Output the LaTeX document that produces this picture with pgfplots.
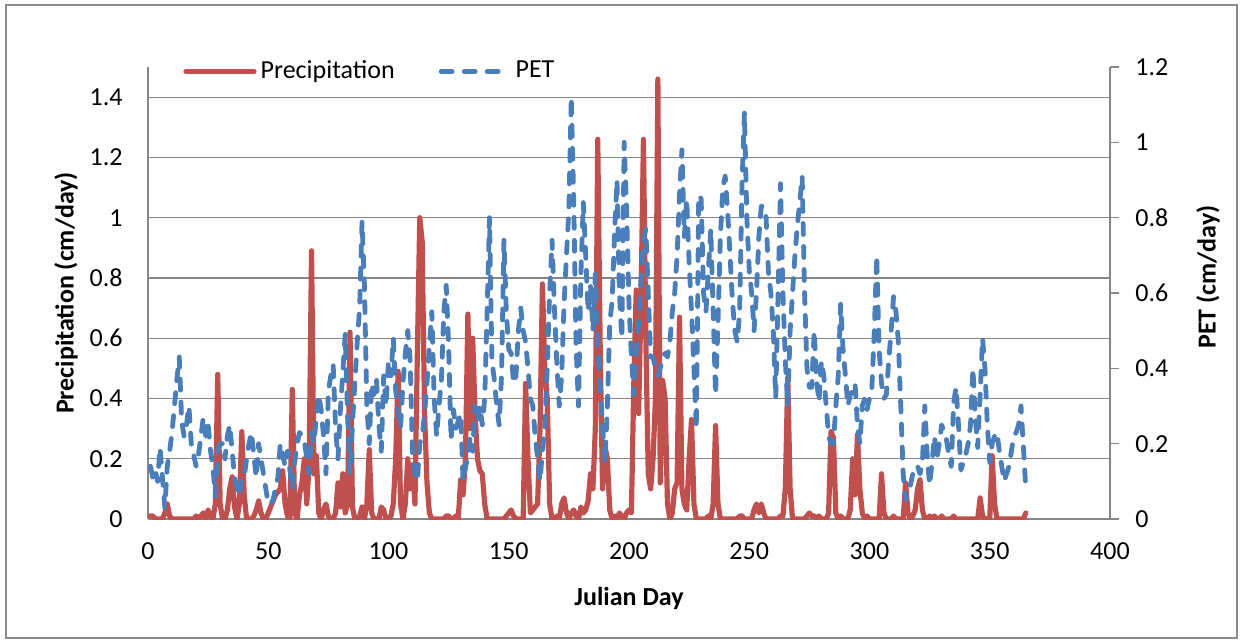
\documentclass[border=0pt]{standalone}
\usepackage{fontspec}
\setmainfont{Carlito}
\usepackage{pgfplots}
\usepackage{pgfplotstable}
\pgfplotsset{compat=1.18}
\definecolor{precip}{HTML}{C0504D}
\definecolor{petc}{HTML}{4A7EBB}
\definecolor{gridc}{HTML}{868686}
\definecolor{framec}{HTML}{8C8C8C}

\pgfplotstableread{
day P PET
1 0.01 0.14
2 0.01 0.11
3 0 0.13
4 0 0.10
5 0 0.19
6 0 0.11
7 0.02 0.03
8 0.05 0.14
9 0.01 0.18
10 0 0.23
11 0 0.30
12 0 0.37
13 0 0.43
14 0 0.26
15 0 0.22
16 0 0.25
17 0 0.30
18 0 0.20
19 0 0.17
20 0.01 0.14
21 0 0.17
22 0.01 0.22
23 0.02 0.27
24 0 0.22
25 0.03 0.25
26 0.01 0.18
27 0 0.14
28 0.05 0.06
29 0.48 0.18
30 0.05 0.20
31 0 0.20
32 0 0.16
33 0.03 0.22
34 0.10 0.25
35 0.14 0.18
36 0.04 0.11
37 0 0.08
38 0.05 0.06
39 0.29 0.11
40 0.08 0.11
41 0 0.16
42 0 0.20
43 0 0.23
44 0.01 0.17
45 0.03 0.11
46 0.06 0.20
47 0.02 0.16
48 0 0.12
49 0 0.08
50 0.02 0.04
51 0.04 0.04
52 0.06 0.05
53 0.08 0.08
54 0.09 0.11
55 0.10 0.20
56 0.16 0.17
57 0.05 0.14
58 0.01 0.18
59 0 0.13
60 0.43 0.08
61 0.02 0.15
62 0 0.20
63 0.08 0.23
64 0.12 0.22
65 0.20 0.21
66 0.05 0.16
67 0.18 0.12
68 0.89 0.23
69 0.15 0.20
70 0.21 0.27
71 0.02 0.33
72 0 0.29
73 0.03 0.22
74 0.05 0.12
75 0.01 0.34
76 0 0.38
77 0 0.41
78 0.02 0.24
79 0.12 0.16
80 0.04 0.29
81 0.15 0.39
82 0.02 0.49
83 0.05 0.27
84 0.62 0.12
85 0.04 0.25
86 0 0.36
87 0 0.47
88 0.01 0.56
89 0.04 0.79
90 0 0.62
91 0.05 0.30
92 0.23 0.20
93 0.02 0.36
94 0 0.33
95 0 0.37
96 0 0.25
97 0.04 0.18
98 0.03 0.38
99 0 0.30
100 0 0.42
101 0.01 0.38
102 0.05 0.48
103 0.20 0.34
104 0.49 0.29
105 0.05 0.24
106 0 0.36
107 0.05 0.44
108 0.20 0.50
109 0.10 0.42
110 0.18 0.17
111 0.05 0.12
112 0.55 0.10
113 1.00 0.20
114 0.92 0.22
115 0.35 0.28
116 0.12 0.36
117 0.02 0.46
118 0 0.55
119 0 0.32
120 0 0.22
121 0 0.30
122 0 0.37
123 0 0.55
124 0.01 0.62
125 0.01 0.46
126 0 0.21
127 0 0.29
128 0.01 0.24
129 0 0.26
130 0.13 0.28
131 0.08 0.10
132 0.20 0.14
133 0.68 0.16
134 0.30 0.22
135 0.60 0.18
136 0.35 0.30
137 0.20 0.26
138 0.16 0.30
139 0.15 0.25
140 0.05 0.32
141 0 0.55
142 0 0.80
143 0 0.42
144 0 0.37
145 0 0.30
146 0 0.25
147 0 0.38
148 0 0.74
149 0.01 0.55
150 0.02 0.45
151 0.03 0.44
152 0.01 0.36
153 0 0.38
154 0 0.50
155 0 0.56
156 0 0.50
157 0.45 0.47
158 0.20 0.40
159 0.02 0.32
160 0.03 0.30
161 0.04 0.22
162 0.05 0.16
163 0.30 0.10
164 0.78 0.18
165 0.50 0.25
166 0.40 0.40
167 0.05 0.60
168 0 0.74
169 0 0.56
170 0.01 0.41
171 0 0.30
172 0.05 0.38
173 0.07 0.57
174 0.02 0.70
175 0 0.82
176 0.02 1.12
177 0.03 0.85
178 0.01 0.46
179 0 0.30
180 0.04 0.65
181 0.02 0.84
182 0.03 0.70
183 0.06 0.55
184 0.15 0.62
185 0.10 0.50
186 0.30 0.65
187 1.26 0.45
188 0.58 0.36
189 0.10 0.25
190 0.24 0.15
191 0.20 0.30
192 0.03 0.52
193 0 0.58
194 0.01 0.76
195 0 0.90
196 0.02 0.60
197 0.01 0.48
198 0 1.00
199 0.02 0.82
200 0.03 0.57
201 0.02 0.43
202 0.45 0.33
203 0.76 0.44
204 0.35 0.52
205 0.72 0.64
206 1.26 0.74
207 0.60 0.77
208 0.15 0.60
209 0.10 0.43
210 0.20 0.43
211 0.40 0.40
212 1.46 0.38
213 0.12 0.40
214 0.46 0.43
215 0.40 0.44
216 0.05 0.43
217 0 0.47
218 0.02 0.55
219 0.10 0.60
220 0.12 0.70
221 0.67 0.86
222 0.10 0.98
223 0.05 0.75
224 0.03 0.85
225 0.20 0.68
226 0.33 0.55
227 0.05 0.40
228 0 0.24
229 0 0.86
230 0 0.85
231 0 0.60
232 0 0.55
233 0.01 0.66
234 0 0.77
235 0.05 0.55
236 0.31 0.33
237 0.05 0.52
238 0 0.75
239 0 0.88
240 0 0.91
241 0 0.82
242 0 0.70
243 0 0.58
244 0 0.50
245 0 0.47
246 0.01 0.55
247 0.01 0.89
248 0 1.08
249 0 0.80
250 0 0.66
251 0 0.60
252 0.03 0.50
253 0.05 0.60
254 0.02 0.75
255 0.05 0.83
256 0.02 0.83
257 0 0.80
258 0 0.65
259 0 0.60
260 0 0.50
261 0 0.32
262 0 0.60
263 0.01 0.89
264 0.01 0.60
265 0.10 0.42
266 0.47 0.30
267 0.10 0.50
268 0 0.60
269 0 0.70
270 0 0.78
271 0 0.84
272 0 0.91
273 0 0.60
274 0.01 0.40
275 0.02 0.35
276 0.01 0.35
277 0.01 0.50
278 0 0.37
279 0.01 0.31
280 0 0.42
281 0 0.38
282 0 0.30
283 0.02 0.22
284 0.29 0.20
285 0.27 0.20
286 0.02 0.30
287 0 0.38
288 0.01 0.57
289 0 0.45
290 0 0.38
291 0 0.30
292 0.03 0.33
293 0.20 0.34
294 0.08 0.36
295 0.28 0.25
296 0.10 0.20
297 0.02 0.30
298 0 0.32
299 0.01 0.29
300 0 0.32
301 0 0.35
302 0 0.50
303 0 0.70
304 0 0.45
305 0.15 0.36
306 0.02 0.32
307 0 0.33
308 0 0.42
309 0 0.50
310 0.01 0.59
311 0 0.55
312 0 0.47
313 0 0.30
314 0 0.12
315 0.12 0.05
316 0.02 0.07
317 0 0.09
318 0.01 0.12
319 0.03 0.14
320 0.10 0.14
321 0.13 0.12
322 0.03 0.15
323 0 0.30
324 0 0.17
325 0.01 0.09
326 0 0.15
327 0.01 0.22
328 0 0.16
329 0 0.20
330 0.01 0.25
331 0 0.23
332 0 0.21
333 0 0.17
334 0 0.14
335 0.01 0.31
336 0 0.35
337 0 0.25
338 0 0.13
339 0 0.15
340 0 0.17
341 0 0.20
342 0 0.25
343 0 0.40
344 0 0.27
345 0 0.19
346 0.07 0.33
347 0.01 0.48
348 0 0.40
349 0 0.25
350 0 0.15
351 0.21 0.20
352 0.05 0.22
353 0 0.23
354 0 0.18
355 0 0.14
356 0 0.10
357 0 0.12
358 0 0.14
359 0 0.18
360 0 0.22
361 0 0.23
362 0 0.25
363 0 0.30
364 0 0.19
365 0.02 0.08
}\datatable

\begin{document}
\fontsize{13}{15.6}\selectfont
\begin{tikzpicture}
\useasboundingbox (-74pt,-62pt) rectangle (547.5pt,259.5pt);
\draw[framec, line width=0.7pt] (-71pt,-59.5pt) rectangle (544.5pt,257pt);

\begin{axis}[
  scale only axis, width=481pt, height=226pt,
  xmin=0, xmax=400, ymin=0, ymax=1.5,
  xtick={0,50,100,150,200,250,300,350,400},
  ytick={0,0.2,0.4,0.6,0.8,1.0,1.2,1.4},
  yticklabels={0,0.2,0.4,0.6,0.8,1,1.2,1.4},
  axis x line*=bottom, axis y line*=left,
  x axis line style={-, gridc, line width=0.6pt},
  y axis line style={-, gridc, line width=0.6pt},
  xtick style={draw=none}, ytick style={draw=none},
  ymajorgrids, grid style={gridc, line width=0.6pt},
  /pgf/number format/assume math mode=true,
  xticklabel style={anchor=north, inner sep=0pt, yshift=-11.5pt},
  yticklabel style={anchor=east, inner sep=0pt, xshift=-12.5pt},
  xlabel={\textbf{Julian Day}},
  xlabel style={at={(rel axis cs:0.5,0)}, anchor=north, inner sep=0pt, yshift=-34pt},
  ylabel={\textbf{Precipitation (cm/day)}},
  ylabel style={at={(rel axis cs:0,0.5)}, anchor=center, inner sep=0pt, yshift=41pt},
  legend columns=2,
  legend style={at={(rel axis cs:0.0364,0.99)}, anchor=west, draw=none, fill=none,
    inner sep=0pt, /tikz/every even column/.append style={column sep=20pt}},
  legend cell align=left,
  legend image code/.code={\draw[#1] (0pt,0pt) -- (34pt,0pt);},
]
\addplot[precip, line width=2.6pt, line join=round, line cap=round] table[x=day, y=P] {\datatable};
\addlegendentry{Precipitation}
\addlegendimage{petc, line width=2.4pt, line cap=round, dash pattern=on 5.5pt off 6pt}
\addlegendentry{PET}
\end{axis}

\begin{axis}[
  scale only axis, width=481pt, height=226pt,
  xmin=0, xmax=400, ymin=0, ymax=1.2,
  axis x line=none, axis y line*=right,
  y axis line style={-, gridc, line width=0.6pt},
  ytick={0,0.2,0.4,0.6,0.8,1.0,1.2},
  yticklabels={0,0.2,0.4,0.6,0.8,1,1.2},
  tick align=outside, major tick length=4.5pt,
  ytick style={gridc, line width=0.6pt},
  /pgf/number format/assume math mode=true,
  yticklabel style={anchor=west, inner sep=0pt, xshift=8pt},
  ylabel={\textbf{PET (cm/day)}},
  ylabel style={at={(rel axis cs:1,0.5)}, anchor=center, inner sep=0pt, yshift=-49pt, xshift=8pt},
]
\addplot[petc, line width=2.4pt, line cap=round, line join=round, dash pattern=on 5.5pt off 6pt] table[x=day, y=PET] {\datatable};
\end{axis}
\end{tikzpicture}
\end{document}
